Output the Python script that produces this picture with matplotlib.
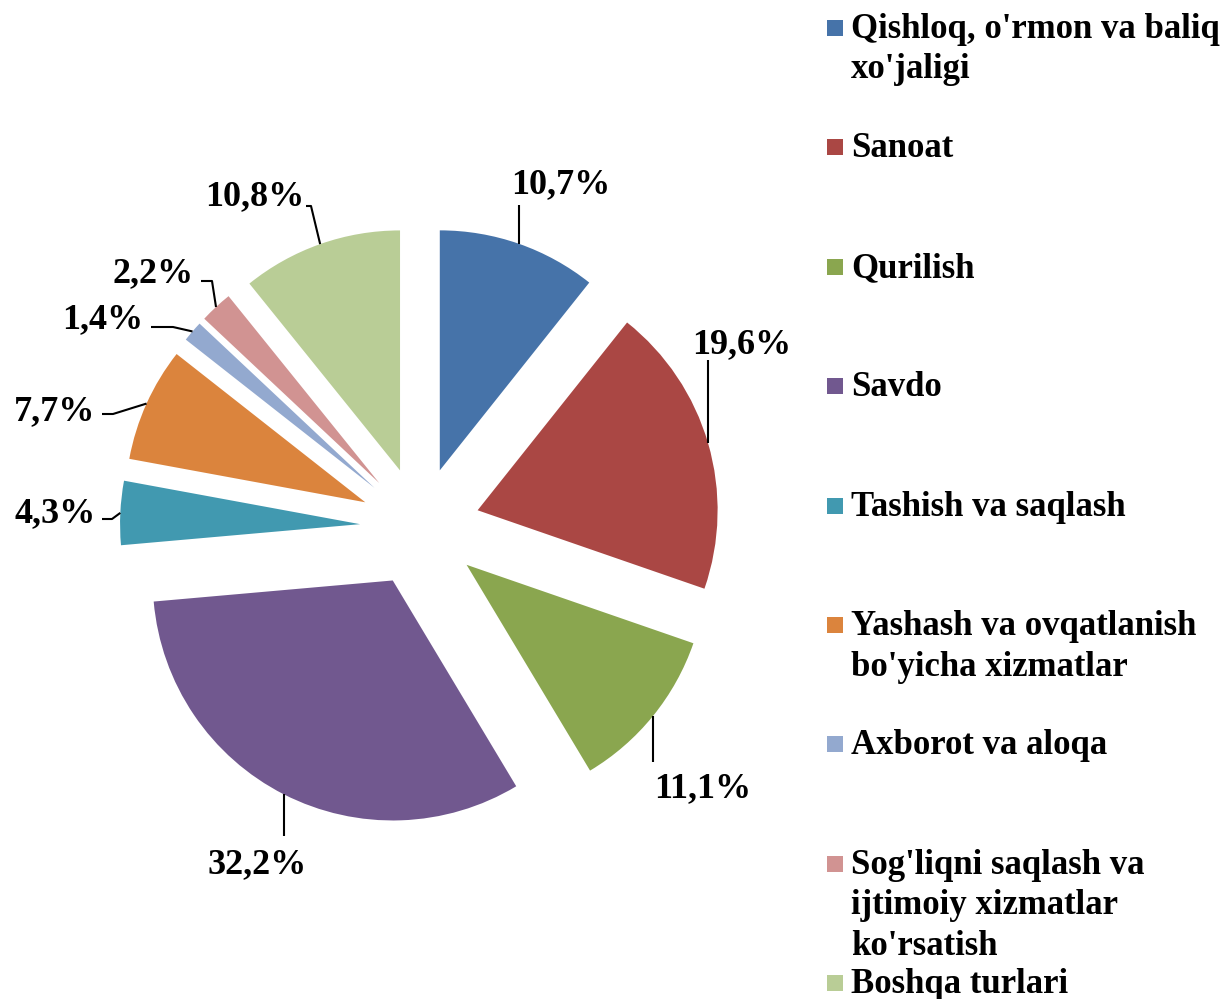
import numpy as np
import matplotlib
matplotlib.use("Agg")
import matplotlib.pyplot as plt
from matplotlib.patches import Rectangle

categories = [
    "Qishloq, o'rmon va baliq\nxo'jaligi",
    "Sanoat",
    "Qurilish",
    "Savdo",
    "Tashish va saqlash",
    "Yashash va ovqatlanish\nbo'yicha xizmatlar",
    "Axborot va aloqa",
    "Sog'liqni saqlash va\nijtimoiy xizmatlar\nko'rsatish",
    "Boshqa turlari",
]
values = [10.7, 19.6, 11.1, 32.2, 4.3, 7.7, 1.4, 2.2, 10.8]
value_labels = ["10,7%", "19,6%", "11,1%", "32,2%", "4,3%", "7,7%", "1,4%", "2,2%", "10,8%"]
colors = ["#4673A9", "#AA4744", "#8AA64F", "#71588F", "#4199B0",
          "#DB843D", "#93A9CF", "#D19392", "#B9CD96"]

W, H = 1221, 999
def py(y):
    return H - y

fig = plt.figure(figsize=(W / 100, H / 100), dpi=100)
ax = fig.add_axes([0, 0, 1, 1])

cx, cy, R = 420, py(527), 240
wedges, _ = ax.pie(values, colors=colors, startangle=90, counterclock=False,
                   explode=[0.25 * R] * len(values), radius=R, center=(cx, cy),
                   wedgeprops=dict(linewidth=0))
ax.set_xlim(0, W)
ax.set_ylim(0, H)
ax.set_aspect("equal")
ax.axis("off")

font = "Liberation Serif"

# label text positions (center x, baseline y) in pixel layout
label_pos = [(561, 193), (742, 353), (703, 797), (257, 873), (55, 522),
             (55, 420), (103, 328), (153, 282), (255, 205)]
# leader line points after the anchor; None x -> keep anchor x
leader_pts = [
    [(None, 205)],
    [(None, 360)],
    [(None, 762)],
    [(None, 836)],
    [(112, 519), (102, 519)],
    [(113, 414), (102, 414)],
    [(173, 327), (151, 327)],
    [(212, 281), (201, 281)],
    [(311, 206), (306, 206)],
]

for w, lab, (lx, ly), pts in zip(wedges, value_labels, label_pos, leader_pts):
    mid = np.deg2rad((w.theta1 + w.theta2) / 2)
    wx, wy = w.center
    ax_x = wx + w.r * np.cos(mid)
    ax_y = wy + w.r * np.sin(mid)
    xs, ys = [ax_x], [ax_y]
    for (px, pyy) in pts:
        xs.append(ax_x if px is None else px)
        ys.append(py(pyy))
    ax.plot(xs, ys, color="black", lw=1.5, solid_capstyle="butt")
    ax.text(lx, py(ly), lab, ha="center", va="baseline", fontsize=26,
            fontweight="bold", family=font, color="black")

# legend
leg_y0, leg_step, line_h = 28, 119.4, 40.5
for i, (cat, col) in enumerate(zip(categories, colors)):
    yc = leg_y0 + i * leg_step
    ax.add_patch(Rectangle((827, py(yc + 8)), 16, 16, facecolor=col, edgecolor="none"))
    for k, line in enumerate(cat.split("\n")):
        ax.text(851, py(yc + 10 + k * line_h), line, ha="left", va="baseline",
                fontsize=25, fontweight="bold", family=font, color="black")

fig.savefig("out.png", dpi=100)
